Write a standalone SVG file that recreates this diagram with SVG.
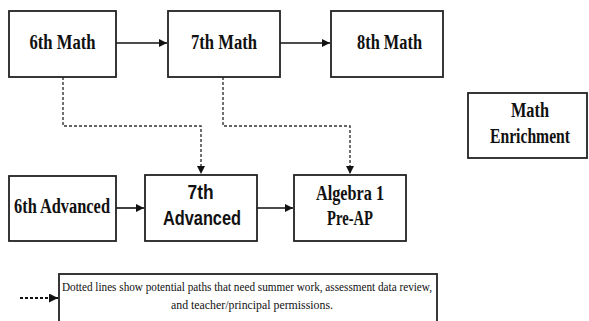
<svg xmlns="http://www.w3.org/2000/svg" width="589" height="321" viewBox="0 0 589 321">
<style>
.box{fill:#fff;stroke:#222;stroke-width:1.8}
.ser{font-family:"Liberation Serif","Times New Roman",serif;font-weight:bold;fill:#111;text-anchor:middle;font-size:20.5px}
.san{font-family:"Liberation Sans",Arial,sans-serif;font-weight:bold;fill:#111;text-anchor:middle;font-size:20px}
.leg{font-family:"Liberation Serif","Times New Roman",serif;fill:#111;text-anchor:middle;font-size:12.5px}
.solid{fill:none;stroke:#111;stroke-width:1.6}
.dash{fill:none;stroke:#333;stroke-width:1.4;stroke-dasharray:3 2}
.dashL{fill:none;stroke:#111;stroke-width:1.8;stroke-dasharray:3 2}
</style>
<defs>
<marker id="ah" viewBox="0 0 10 10" refX="10" refY="5" markerWidth="9" markerHeight="8" markerUnits="userSpaceOnUse" orient="auto">
<path d="M0,0 L10,5 L0,10 Z" fill="#111"/>
</marker>
<marker id="ahL" viewBox="0 0 10 10" refX="10" refY="5" markerWidth="11" markerHeight="9" markerUnits="userSpaceOnUse" orient="auto">
<path d="M0,0 L10,5 L0,10 Z" fill="#111"/>
</marker>
</defs>
<g id="connectors">
<line class="solid" x1="116" y1="43" x2="167" y2="43" marker-end="url(#ah)"/>
<line class="solid" x1="280" y1="43" x2="330" y2="43" marker-end="url(#ah)"/>
<line class="solid" x1="116" y1="208" x2="144" y2="208" marker-end="url(#ah)"/>
<line class="solid" x1="257" y1="208" x2="293" y2="208" marker-end="url(#ah)"/>
<polyline class="dash" points="63,77 63,126 201,126 201,174" marker-end="url(#ah)"/>
<polyline class="dash" points="223,77 223,126 350,126 350,174" marker-end="url(#ah)"/>
<line class="dashL" x1="20" y1="298" x2="58" y2="298" marker-end="url(#ahL)"/>
</g>
<g id="n6math"><rect class="box" x="9" y="11" width="107" height="66"/><text class="ser" x="62.5" y="49" textLength="66" lengthAdjust="spacingAndGlyphs">6th Math</text></g>
<g id="n7math"><rect class="box" x="168" y="11" width="112" height="66"/><text class="ser" x="224" y="49" textLength="66" lengthAdjust="spacingAndGlyphs">7th Math</text></g>
<g id="n8math"><rect class="box" x="331" y="11" width="112" height="66"/><text class="ser" x="389.5" y="49" textLength="65" lengthAdjust="spacingAndGlyphs">8th Math</text></g>
<g id="nenrich"><rect class="box" x="468" y="93" width="119" height="65"/><text class="ser" x="530" y="117" font-size="19.5" textLength="38" lengthAdjust="spacingAndGlyphs">Math</text><text class="ser" x="530" y="143" font-size="19.5" textLength="80" lengthAdjust="spacingAndGlyphs">Enrichment</text></g>
<g id="n6adv"><rect class="box" x="9" y="176" width="107" height="65"/><text class="ser" x="62" y="213" textLength="96" lengthAdjust="spacingAndGlyphs">6th Advanced</text></g>
<g id="n7adv"><rect class="box" x="145" y="175" width="112" height="66"/><text class="san" x="200.5" y="199" textLength="26" lengthAdjust="spacingAndGlyphs">7th</text><text class="san" x="202" y="225" textLength="78" lengthAdjust="spacingAndGlyphs">Advanced</text></g>
<g id="nalg"><rect class="box" x="294" y="175" width="112" height="66"/><text class="ser" x="350" y="200" textLength="68" lengthAdjust="spacingAndGlyphs">Algebra 1</text><text class="ser" x="350" y="225" textLength="46" lengthAdjust="spacingAndGlyphs">Pre-AP</text></g>
<g id="legend"><rect class="box" x="59" y="274" width="378" height="60"/><text class="leg" x="247" y="291" textLength="370" lengthAdjust="spacingAndGlyphs">Dotted lines show potential paths that need summer work, assessment data review,</text><text class="leg" x="252" y="309" textLength="162" lengthAdjust="spacingAndGlyphs">and teacher/principal permissions.</text></g>
</svg>
